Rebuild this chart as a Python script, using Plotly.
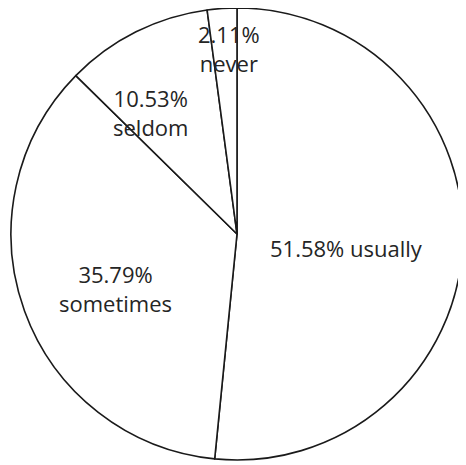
import plotly.graph_objects as go

labels = ["usually", "sometimes", "seldom", "never"]
values = [51.58, 35.79, 10.53, 2.11]
separators = [" ", "<br>", "<br>", "<br>"]

texts = [f"{v:.2f}%{s}{l}" for v, s, l in zip(values, separators, labels)]

# label anchor positions (paper coords), one per slice
label_x = [0.740, 0.234, 0.312, 0.483]
label_y = [0.475, 0.387, 0.772, 0.912]

fig = go.Figure(go.Pie(
    labels=labels,
    values=values,
    textinfo="none",
    sort=False,
    direction="clockwise",
    rotation=0,
    marker=dict(colors=["white"] * 4, line=dict(color="#1a1a1a", width=1.6)),
    domain=dict(x=[0.00655, 0.99345], y=[0.01094, 1.0]),
    showlegend=False,
    hoverinfo="label+percent",
))

for t, x, y in zip(texts, label_x, label_y):
    fig.add_annotation(
        x=x, y=y, xref="paper", yref="paper",
        text=t, showarrow=False, align="center",
        xanchor="center", yanchor="middle",
        font=dict(family="Open Sans, Liberation Sans, sans-serif", size=22, color="#252525"),
    )

fig.update_layout(
    width=458, height=457,
    margin=dict(l=0, r=0, t=0, b=0),
    paper_bgcolor="white",
    plot_bgcolor="white",
)

fig.write_html("out.html")
